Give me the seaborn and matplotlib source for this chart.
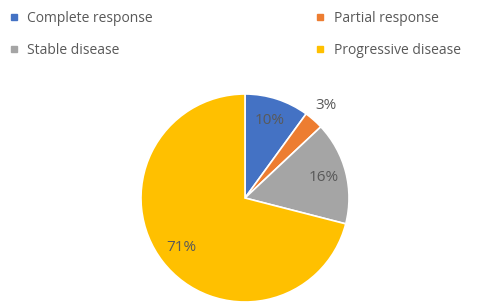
import matplotlib
matplotlib.use("Agg")
import matplotlib.pyplot as plt
import seaborn as sns
import numpy as np
from matplotlib.lines import Line2D

categories = ["Complete response", "Partial response", "Stable disease", "Progressive disease"]
values = [10, 3, 16, 71]
colors = ["#4472C4", "#ED7D31", "#A5A5A5", "#FFC000"]

sns.set_theme(style="white")
plt.rcParams['font.family'] = ['Open Sans', 'DejaVu Sans']
text_color = "#595959"

fig = plt.figure(figsize=(4.89, 3.06), dpi=100)
# pie axes: center (245,198), radius ~104 px
r = 104
cx, cy = 245, 198
ax = fig.add_axes([(cx - r) / 489, 1 - (cy + r) / 306, 2 * r / 489, 2 * r / 306])

wedges, texts, autotexts = ax.pie(
    values, colors=colors, startangle=90, counterclock=False,
    autopct=lambda p: f"{p:.0f}%", pctdistance=0.78,
    wedgeprops=dict(edgecolor="white", linewidth=1.2),
    textprops=dict(color=text_color, fontsize=11))
ax.set_aspect("auto")
ax.set_xlim(-1, 1)
ax.set_ylim(-1, 1)

# small slice label outside
for w, t, v in zip(wedges, autotexts, values):
    if v < 5:
        ang = np.deg2rad((w.theta1 + w.theta2) / 2)
        t.set_position((1.18 * np.cos(ang), 1.18 * np.sin(ang)))

# legend filled row by row (two columns)
order = [0, 2, 1, 3]
handles = [Line2D([], [], marker="s", linestyle="none", markersize=5,
                  markerfacecolor=colors[i], markeredgecolor=colors[i]) for i in order]
labels = [categories[i] for i in order]
leg = fig.legend(handles, labels, ncol=2, loc="upper left",
                 bbox_to_anchor=(8 / 489, 1 - 11 / 306), frameon=False,
                 borderpad=0, borderaxespad=0,
                 fontsize=10, labelcolor=text_color,
                 handlelength=0.8, handletextpad=0.6, columnspacing=11.6,
                 labelspacing=1.2)

fig.savefig("out.png", dpi=100)
